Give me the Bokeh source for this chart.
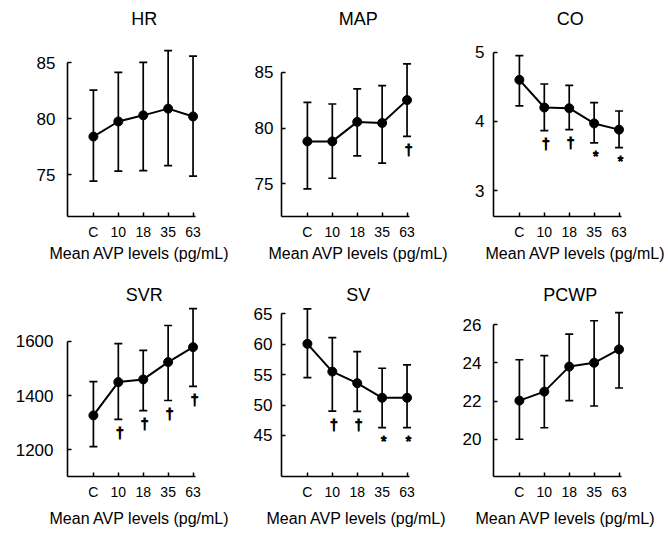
from bokeh.plotting import figure
from bokeh.models import ColumnDataSource, Whisker, TeeHead, FixedTicker, Title, Range1d
from bokeh.layouts import gridplot
from bokeh.embed import file_html
from bokeh.resources import INLINE
from bokeh.core.properties import value

# ---------------- data ----------------
categories = ["C", "10", "18", "35", "63"]
x_label = "Mean AVP levels (pg/mL)"

hr_mean = [78.4, 79.75, 80.3, 80.9, 80.2]
hr_upper = [82.55, 84.15, 85.05, 86.1, 85.6]
hr_lower = [74.4, 75.3, 75.35, 75.8, 74.85]
hr_marks = ["", "", "", "", ""]
hr_ticks = [75, 80, 85]

map_mean = [78.8, 78.8, 80.55, 80.45, 82.5]
map_upper = [82.3, 82.15, 83.5, 83.8, 85.75]
map_lower = [74.55, 75.5, 77.5, 76.85, 79.25]
map_marks = ["", "", "", "", "\u2020"]
map_ticks = [75, 80, 85]

co_mean = [4.6, 4.2, 4.19, 3.97, 3.88]
co_upper = [4.95, 4.54, 4.52, 4.27, 4.15]
co_lower = [4.225, 3.865, 3.88, 3.69, 3.62]
co_marks = ["", "\u2020", "\u2020", "*", "*"]
co_ticks = [3, 4, 5]

svr_mean = [1327, 1450, 1460, 1524, 1579]
svr_upper = [1452, 1592, 1567, 1659, 1721]
svr_lower = [1212, 1312, 1345, 1382, 1434]
svr_marks = ["", "\u2020", "\u2020", "\u2020", "\u2020"]
svr_ticks = [1200, 1400, 1600]

sv_mean = [60.07, 55.5, 53.6, 51.2, 51.2]
sv_upper = [65.8, 61.1, 58.8, 56.05, 56.6]
sv_lower = [54.5, 49.0, 48.95, 46.3, 46.3]
sv_marks = ["", "\u2020", "\u2020", "*", "*"]
sv_ticks = [45, 50, 55, 60, 65]

pcwp_mean = [22.02, 22.49, 23.8, 24.0, 24.7]
pcwp_upper = [24.16, 24.38, 25.5, 26.2, 26.63]
pcwp_lower = [20.0, 20.6, 22.02, 21.74, 22.68]
pcwp_marks = ["", "", "", "", ""]
pcwp_ticks = [20, 22, 24, 26]

panels = [
    ("HR", hr_mean, hr_upper, hr_lower, hr_marks, hr_ticks),
    ("MAP", map_mean, map_upper, map_lower, map_marks, map_ticks),
    ("CO", co_mean, co_upper, co_lower, co_marks, co_ticks),
    ("SVR", svr_mean, svr_upper, svr_lower, svr_marks, svr_ticks),
    ("SV", sv_mean, sv_upper, sv_lower, sv_marks, sv_ticks),
    ("PCWP", pcwp_mean, pcwp_upper, pcwp_lower, pcwp_marks, pcwp_ticks),
]

# ---------------- layout / style ----------------
FONT = "Liberation Sans"
y_ranges = [(71.24, 87.72), (72.07, 88.56), (2.624, 5.285),
            (1101.4, 1736.6), (38.26, 66.53), (18.05, 27.05)]
y_label_standoff = [12, 8, 9, 14, 9, 12]
xlabel_left_page = [49, 268, 485, 49, 266, 475]
fig_widths = [232, 215, 220]
border_left = [67, 49, 46]
fig_heights = [268, 264]
border_top = [32, 36]
border_bottom = [52, 56]
title_standoff = [7, 0]
xlabel_standoff = [0, 11]
PX_PER_UNIT = 24.95
X_START, X_AXIS_END, X_END = -1.04, 4.09, 4.5
FRAME_W = round(PX_PER_UNIT * (X_END - X_START))

ARIAL = {"H": 722, "R": 722, "M": 833, "A": 667, "P": 667, "C": 722,
         "O": 778, "S": 667, "V": 667, "W": 944}


def text_width(s, size):
    return sum(ARIAL.get(ch, 556) for ch in s) / 1000.0 * size


figs = []
for i, (name, mean, upper, lower, marks, ticks) in enumerate(panels):
    r, c = divmod(i, 3)
    w = fig_widths[c]
    h = fig_heights[r]
    y0, y1 = y_ranges[i]
    p = figure(width=w, height=h, output_backend="svg", toolbar_location=None,
               x_range=Range1d(X_START, X_END), y_range=Range1d(y0, y1),
               min_border_left=border_left[c],
               min_border_right=w - border_left[c] - FRAME_W,
               min_border_top=border_top[r], min_border_bottom=border_bottom[r],
               background_fill_color="white", border_fill_color="white")
    p.outline_line_color = None
    p.xgrid.visible = False
    p.ygrid.visible = False

    xs = list(range(len(categories)))
    src = ColumnDataSource(dict(x=xs, mean=mean, upper=upper, lower=lower, mark=marks))

    wh = Whisker(source=src, base="x", upper="upper", lower="lower",
                 line_color="black", line_width=1.7,
                 upper_head=TeeHead(size=8, line_width=1.7, line_color="black"),
                 lower_head=TeeHead(size=8, line_width=1.7, line_color="black"))
    p.add_layout(wh)
    p.line("x", "mean", source=src, line_color="black", line_width=2)
    p.scatter("x", "mean", source=src, size=9, color="black")
    p.text("x", "lower", text="mark", source=src, text_font=value(FONT),
           text_font_size="14px", text_font_style="normal",
           text_align="center", text_baseline="middle",
           x_offset=1.5, y_offset=13.5, text_color="black",
           text_outline_color="black")

    # axes
    for ax in (p.xaxis[0], p.yaxis[0]):
        ax.axis_line_width = 1.6
        ax.axis_line_color = "black"
        ax.major_tick_line_width = 1.5
        ax.major_tick_line_color = "black"
        ax.major_tick_in = 4
        ax.major_tick_out = 0
        ax.minor_tick_line_color = None
        ax.major_label_text_font = FONT
        ax.major_label_text_color = "black"
    p.xaxis.ticker = FixedTicker(ticks=xs)
    p.xaxis.bounds = (X_START, X_AXIS_END)
    p.xaxis.major_label_overrides = {x: cat for x, cat in zip(xs, categories)}
    p.xaxis.major_label_text_font_size = "14px"
    p.xaxis.major_label_standoff = 7
    p.yaxis.ticker = FixedTicker(ticks=ticks)
    p.yaxis.bounds = (y0, max(ticks))
    p.yaxis.major_label_text_font_size = "17px"
    p.yaxis.major_label_standoff = y_label_standoff[i]

    # title centred over the data
    data_center = (2 - X_START) * PX_PER_UNIT
    p.title.text = name
    p.title.align = "left"
    p.title.offset = data_center - text_width(name, 18) / 2 + 1
    p.title.text_font = FONT
    p.title.text_font_size = "18px"
    p.title.text_font_style = "normal"
    p.title.text_color = "black"
    p.title.standoff = title_standoff[r]

    frame_left_page = sum(fig_widths[:c]) + border_left[c]
    xl = Title(text=x_label, align="left", offset=xlabel_left_page[i] - frame_left_page,
               text_font=FONT, text_font_size="16px", text_font_style="normal",
               text_color="black", standoff=xlabel_standoff[r])
    p.add_layout(xl, "below")
    figs.append(p)

grid = gridplot([figs[0:3], figs[3:6]], toolbar_location=None)
open("out.html", "w").write(file_html(grid, INLINE))
